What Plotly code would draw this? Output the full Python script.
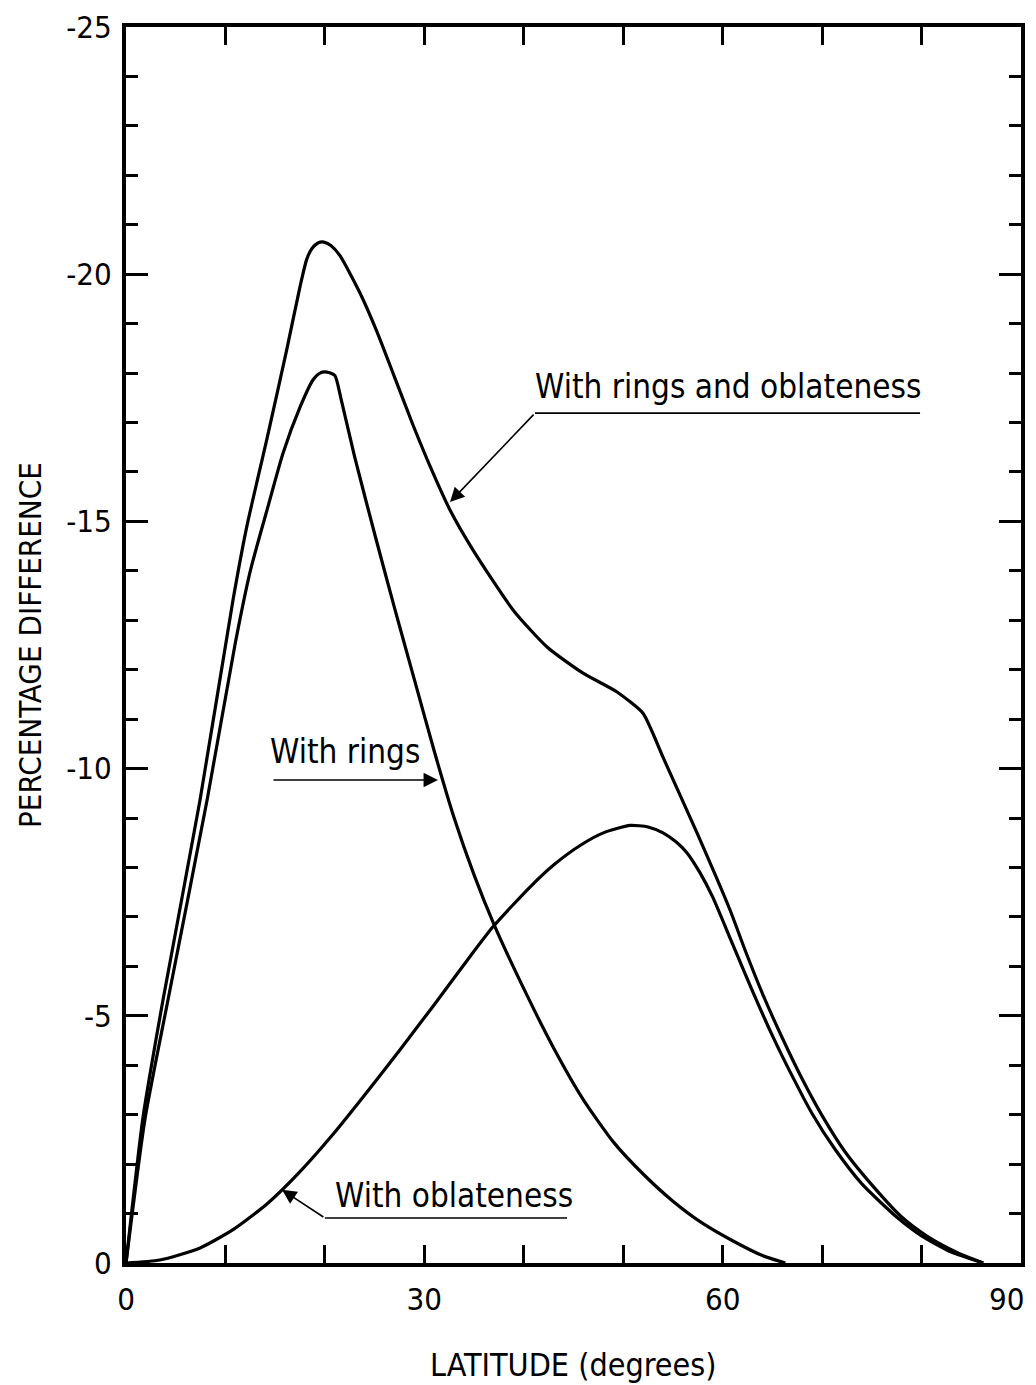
import plotly.graph_objects as go

# ---- data ----
lat_both = [0, 1.71, 3.72, 7.44, 10.76, 12.14, 14.15, 16.16, 17.5, 18.17, 18.7, 19.3, 19.9,
            20.6, 21.5, 23.53, 25.21, 26.85, 28.86, 30.87, 32.58, 34.9, 38.92, 42.34, 45.96,
            49.38, 51.99, 52.9, 54.0, 57.42, 60.74, 62.25, 64.0, 66.0, 68.0, 70.0, 72.3, 75.0,
            78.0, 80.5, 83.5, 86.2]
val_both = [0, -2.95, -5.32, -9.36, -13.41, -14.89, -16.65, -18.47, -19.75, -20.3, -20.52,
            -20.63, -20.65, -20.58, -20.38, -19.62, -18.85, -18.0, -16.95, -15.98, -15.23,
            -14.42, -13.21, -12.46, -11.93, -11.55, -11.12, -10.75, -10.23, -8.70, -7.14,
            -6.33, -5.45, -4.55, -3.72, -2.98, -2.25, -1.58, -0.93, -0.55, -0.22, 0]

lat_rings = [0, 1.9, 4.22, 8.15, 11.0, 12.5, 14.18, 15.79, 17.5, 18.8, 19.5, 20.2, 21.0, 21.6,
             23.0, 25.0, 27.0, 29.0, 31.0, 33.0, 35.0, 37.0, 40.0, 43.0, 46.0, 49.0, 52.0,
             55.0, 58.0, 61.0, 64.0, 66.3]
val_rings = [0, -2.9, -5.32, -9.36, -12.55, -14.0, -15.23, -16.38, -17.31, -17.86, -18.0,
             -18.02, -17.95, -17.5, -16.3, -14.75, -13.25, -11.8, -10.35, -9.0, -7.85, -6.85,
             -5.55, -4.35, -3.3, -2.45, -1.8, -1.25, -0.8, -0.45, -0.15, 0]

lat_obl = [0, 3.4, 7.4, 10.8, 14.2, 17.5, 20.8, 24.2, 27.5, 30.9, 34.6, 36.9, 40.6, 43.0,
           45.7, 48.0, 50.7, 52.5, 54.0, 55.3, 56.4, 57.7, 59.0, 61.0, 63.0, 65.0, 67.0,
           69.0, 71.3, 74.0, 77.5, 80.0, 83.0, 86.2]
val_obl = [0, -0.06, -0.3, -0.68, -1.2, -1.85, -2.6, -3.45, -4.3, -5.2, -6.2, -6.8, -7.6,
           -8.05, -8.45, -8.7, -8.85, -8.82, -8.7, -8.52, -8.3, -7.9, -7.4, -6.45, -5.5,
           -4.6, -3.78, -3.02, -2.3, -1.6, -0.93, -0.55, -0.22, 0]

x_tickvals = [0, 10, 20, 30, 40, 50, 60, 70, 80, 90]
x_ticktext = ["0", "", "", "30", "", "", "60", "", "", ""]
x_last_label = "90"
y_tickvals = [0, -5, -10, -15, -20, -25]
y_ticktext = ["0", "-5", "-10", "-15", "-20", "-25"]

labels = ["With rings and oblateness", "With rings", "With oblateness"]
label_x = [40.93, 14.28, 20.82]
label_y = [-17.72, -10.34, -1.36]

FONT = "DejaVu Sans Condensed, Liberation Sans Narrow, DejaVu Sans, sans-serif"

fig = go.Figure()
for xs, ys in [(lat_both, val_both), (lat_rings, val_rings), (lat_obl, val_obl)]:
    fig.add_trace(go.Scatter(x=xs, y=ys, mode="lines",
                             line=dict(color="black", width=3.2, shape="spline", smoothing=0.6),
                             showlegend=False, hoverinfo="skip"))

# labels
for t, lx, ly in zip(labels, label_x, label_y):
    fig.add_annotation(x=lx, y=ly, xref="x", yref="y", text=t, showarrow=False,
                       xanchor="left", yanchor="middle",
                       font=dict(family=FONT, size=33, color="black"))

# leader lines / arrows
fig.add_shape(type="line", xref="x", yref="y", x0=41.13, y0=-17.19, x1=79.85, y1=-17.19,
              line=dict(color="black", width=1.6))
fig.add_annotation(x=32.58, y=-15.39, ax=41.13, ay=-17.19, xref="x", yref="y",
                   axref="x", ayref="y", text="", showarrow=True, arrowhead=2,
                   arrowsize=1.8, arrowwidth=1.6, arrowcolor="black")
fig.add_annotation(x=31.37, y=-9.77, ax=14.68, ay=-9.77, xref="x", yref="y",
                   axref="x", ayref="y", text="", showarrow=True, arrowhead=2,
                   arrowsize=1.8, arrowwidth=1.6, arrowcolor="black")
fig.add_shape(type="line", xref="x", yref="y", x0=20.0, y0=-0.91, x1=44.35, y1=-0.91,
              line=dict(color="black", width=1.6))
fig.add_annotation(x=15.69, y=-1.48, ax=20.0, ay=-0.91, xref="x", yref="y",
                   axref="x", ayref="y", text="", showarrow=True, arrowhead=2,
                   arrowsize=1.8, arrowwidth=1.6, arrowcolor="black")

# last x tick label, nudged inside the page as in the reference
fig.add_annotation(x=90, y=0, xref="x", yref="paper", text=x_last_label, showarrow=False,
                   xanchor="center", yanchor="middle", xshift=-15, yshift=-36,
                   font=dict(family=FONT, size=31, color="black"))

# axis titles
fig.add_annotation(x=0, y=0.5, xref="paper", yref="paper", text="PERCENTAGE DIFFERENCE",
                   showarrow=False, textangle=-90, xshift=-96, xanchor="center",
                   yanchor="middle", font=dict(family=FONT, size=31, color="black"))
fig.add_annotation(x=0.5, y=0, xref="paper", yref="paper", text="LATITUDE (degrees)",
                   showarrow=False, yshift=-102, xanchor="center", yanchor="middle",
                   font=dict(family=FONT, size=32, color="black"))

fig.update_xaxes(range=[0, 90], tickmode="array", tickvals=x_tickvals, ticktext=x_ticktext,
                 ticks="inside", ticklen=18, tickwidth=3, tickcolor="black",
                 showline=True, linewidth=4, linecolor="black", mirror="allticks",
                 showgrid=False, zeroline=False, ticklabeloverflow="allow",
                 ticklabelstandoff=6, automargin=False,
                 tickfont=dict(family=FONT, size=31, color="black"))
fig.update_yaxes(range=[0, -25], tickmode="array", tickvals=y_tickvals, ticktext=y_ticktext,
                 ticks="inside", ticklen=22, tickwidth=3, tickcolor="black",
                 minor=dict(dtick=1, tick0=0, ticks="inside", ticklen=12, tickwidth=3,
                            tickcolor="black", showgrid=False),
                 showline=True, linewidth=4, linecolor="black", mirror="allticks",
                 showgrid=False, zeroline=False, ticklabeloverflow="allow",
                 ticklabelstandoff=4, automargin=False,
                 tickfont=dict(family=FONT, size=31, color="black"))

fig.update_layout(width=1036, height=1385, margin=dict(l=126, r=15, t=27, b=122),
                  paper_bgcolor="white", plot_bgcolor="white")

fig.write_html("out.html")
